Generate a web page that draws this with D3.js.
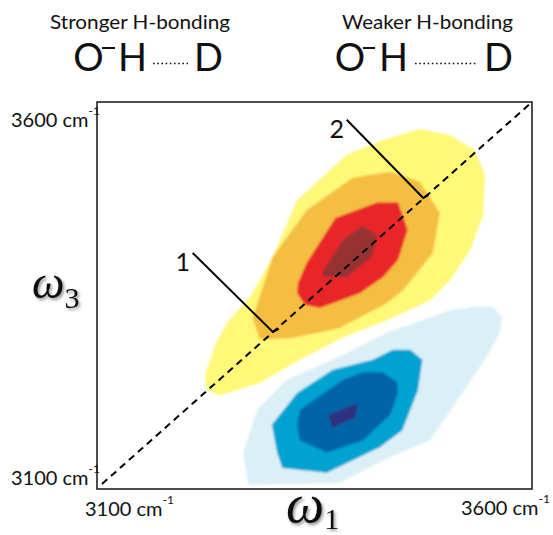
<!DOCTYPE html>
<html>
<head>
<meta charset="utf-8">
<script src="https://cdn.jsdelivr.net/npm/d3@7"></script>
<style>
  body { margin: 0; background: #fff; }
  svg text { font-family: Lato, "Open Sans", sans-serif; fill: #111; }
</style>
</head>
<body>
<svg id="chart" width="553" height="535"></svg>
<script>
// ---- data (frequencies in cm^-1: [omega1, omega3]) ----
const domain = [3100, 3600];
const tickValues = [3100, 3600];
const tickText = ["3100 cm", "3600 cm"];
const tickUnit = "-1";
const headings = ["Stronger H-bonding", "Weaker H-bonding"];
const bondAtoms = ["O", "H", "D"];

// positive (bleach / stimulated emission) contour levels, outermost first
const posLevel1 = [[3471,3565],[3506,3557],[3534,3538],[3546,3506],[3544,3454],[3529,3409],[3506,3370],
  [3483,3344],[3433,3318],[3383,3296],[3333,3267],[3287,3237],[3241,3221],[3226,3228],[3224,3247],
  [3236,3286],[3249,3314],[3276,3348],[3302,3400],[3330,3473],[3387,3532],[3429,3551]];
const posLevel2 = [[3394,3502],[3437,3510],[3471,3497],[3494,3457],[3486,3405],[3452,3357],[3433,3340],
  [3379,3308],[3325,3295],[3287,3293],[3279,3321],[3302,3400],[3341,3460]];
const posLevel3 = [[3374,3450],[3422,3470],[3446,3470],[3457,3435],[3446,3396],[3429,3374],[3402,3353],
  [3356,3334],[3339,3338],[3330,3353],[3331,3366],[3341,3392]];
const posLevel4 = [[3405,3440],[3422,3428],[3416,3400],[3387,3374],[3360,3374],[3359,3380],[3383,3422]];

// negative (excited-state absorption) contour levels, outermost first
const negLevel1 = [[3274,3105],[3268,3147],[3284,3202],[3318,3241],[3383,3273],[3433,3302],[3506,3331],
  [3537,3336],[3555,3335],[3566,3322],[3563,3302],[3548,3271],[3517,3219],[3483,3163],[3429,3137],[3379,3108]];
const negLevel2 = [[3301,3183],[3330,3224],[3371,3254],[3417,3267],[3440,3280],[3460,3280],[3474,3267],
  [3469,3228],[3451,3176],[3425,3154],[3364,3121],[3313,3127],[3307,3147]];
const negLevel3 = [[3330,3183],[3333,3202],[3383,3241],[3406,3251],[3428,3251],[3445,3238],[3446,3225],
  [3437,3196],[3406,3163],[3364,3147],[3333,3163]];
const negLevel4 = [[3366,3196],[3400,3211],[3397,3192],[3370,3179]];

const posColors = ["#fff878", "#f4be42", "#e8262a", "#963032"];
const negColors = ["#dbf0f6", "#00a2d2", "#0565a8", "#2e3180"];

// diagonal slices through the band: label, start, point on diagonal, end of hook
const sliceLabels = ["1", "2"];
const sliceFrom = [[3210,3405],[3387,3577]];
const sliceAt = [[3302,3303],[3475,3476]];
const sliceHook = [[3309,3307],[3481,3480]];

// ---- chart ----
const svg = d3.select("#chart");
const x = d3.scaleLinear().domain(domain).range([97, 532]);
const y = d3.scaleLinear().domain(domain).range([489, 102]);

const defs = svg.append("defs");
const soft = defs.append("filter").attr("id", "soft")
  .attr("x", "-5%").attr("y", "-5%").attr("width", "110%").attr("height", "110%");
soft.append("feGaussianBlur").attr("stdDeviation", 1.3);
const shadow = defs.append("filter").attr("id", "shadow")
  .attr("x", "-20%").attr("y", "-20%").attr("width", "150%").attr("height", "150%");
shadow.append("feDropShadow").attr("dx", 1.5).attr("dy", 2).attr("stdDeviation", 1.5)
  .attr("flood-color", "#000").attr("flood-opacity", 0.45);

const outline = d3.line().x(d => x(d[0])).y(d => y(d[1]));

const contours = svg.append("g").attr("filter", "url(#soft)");
[posLevel1, posLevel2, posLevel3, posLevel4].forEach((poly, i) => {
  contours.append("path").attr("d", outline(poly) + "Z").attr("fill", posColors[i]);
});
[negLevel1, negLevel2, negLevel3, negLevel4].forEach((poly, i) => {
  contours.append("path").attr("d", outline(poly) + "Z").attr("fill", negColors[i]);
});

// frame
svg.append("rect")
  .attr("x", x(domain[0])).attr("y", y(domain[1]))
  .attr("width", x(domain[1]) - x(domain[0])).attr("height", y(domain[0]) - y(domain[1]))
  .attr("fill", "none").attr("stroke", "#222").attr("stroke-width", 1.6);

// diagonal omega1 = omega3
svg.append("line")
  .attr("x1", x(domain[0]) + 5).attr("y1", y(domain[0]) - 5)
  .attr("x2", x(domain[1])).attr("y2", y(domain[1]))
  .attr("stroke", "#000").attr("stroke-width", 2).attr("stroke-dasharray", "7,5");

// slice markers
sliceLabels.forEach((lab, i) => {
  svg.append("path")
    .attr("d", outline([sliceFrom[i], sliceAt[i], sliceHook[i]]))
    .attr("fill", "none").attr("stroke", "#000").attr("stroke-width", 2);
  svg.append("text")
    .attr("x", x(sliceFrom[i][0]) - 10).attr("y", y(sliceFrom[i][1]) + 18)
    .attr("text-anchor", "middle").attr("font-size", 25).text(lab);
});

// tick labels: value + unit with a raised exponent
function unitLabel(tx, ty, label) {
  const t = svg.append("text").attr("x", tx).attr("y", ty).attr("font-size", 20);
  t.append("tspan").text(label);
  t.append("tspan").attr("font-size", 12).attr("dy", -12).text(tickUnit);
}
// omega3 (vertical) ticks
unitLabel(11, y(tickValues[1]) + 25, tickText[1]);
unitLabel(11, y(tickValues[0]) - 4, tickText[0]);
// omega1 (horizontal) ticks
unitLabel(x(tickValues[0]) - 12, y(domain[0]) + 27, tickText[0]);
unitLabel(x(tickValues[1]) - 71, y(domain[0]) + 26, tickText[1]);

// axis titles
const w3 = svg.append("text").attr("x", 32).attr("y", 298).attr("filter", "url(#shadow)");
w3.append("tspan").attr("font-family", "'Liberation Serif', serif").attr("font-style", "italic")
  .attr("font-size", 46).text("ω");
w3.append("tspan").attr("font-family", "'Liberation Serif', serif")
  .attr("font-size", 30).attr("dy", 10).text("3");
const w1 = svg.append("text").attr("x", 286).attr("y", 522).attr("filter", "url(#shadow)");
w1.append("tspan").attr("font-family", "'Liberation Serif', serif").attr("font-style", "italic")
  .attr("font-size", 54).text("ω");
w1.append("tspan").attr("font-family", "'Liberation Serif', serif")
  .attr("font-size", 30).attr("dy", 7).text("1");

// headings with O–H···D sketches
const heads = [
  { cx: 140, w: 180, o: 88.5, h: 132.5, d: 208.5, dash: [102, 115], dots: [153, 188] },
  { cx: 427.5, w: 171, o: 350, h: 393.5, d: 498.5, dash: [363, 375], dots: [415, 478] }
];
heads.forEach((hd, i) => {
  svg.append("text").attr("x", hd.cx - hd.w / 2).attr("y", 28.5)
    .attr("font-size", 19).attr("textLength", hd.w).attr("lengthAdjust", "spacingAndGlyphs")
    .text(headings[i]);
  [hd.o, hd.h, hd.d].forEach((cx, k) => {
    svg.append("text").attr("x", cx).attr("y", 70.5).attr("text-anchor", "middle")
      .attr("font-size", 38).text(bondAtoms[k]);
  });
  svg.append("line").attr("x1", hd.dash[0]).attr("x2", hd.dash[1]).attr("y1", 48).attr("y2", 48)
    .attr("stroke", "#111").attr("stroke-width", 2);
  svg.append("line").attr("x1", hd.dots[0]).attr("x2", hd.dots[1]).attr("y1", 63.5).attr("y2", 63.5)
    .attr("stroke", "#111").attr("stroke-width", 1.6).attr("stroke-dasharray", "1.6,2.6");
});
</script>
</body>
</html>
